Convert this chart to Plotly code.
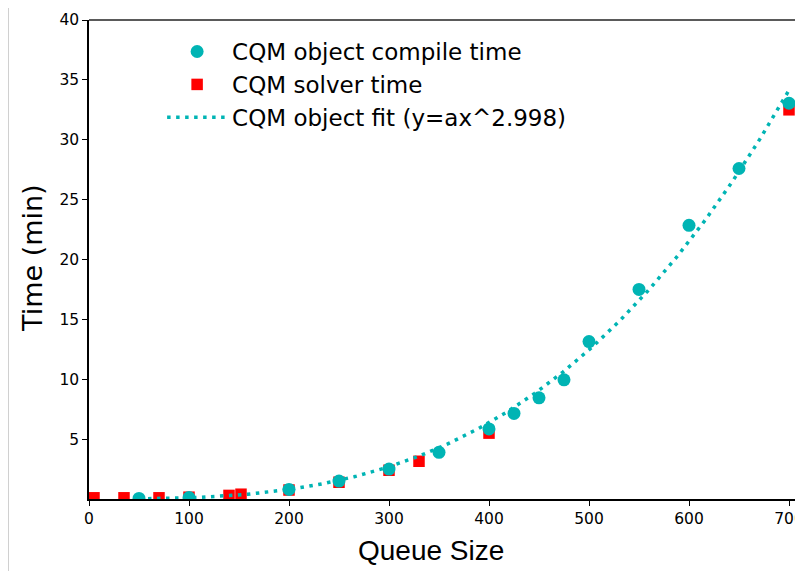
import numpy as np
import plotly.graph_objects as go

# ---- data ----
compile_x = [50, 100, 200, 250, 300, 350, 400, 425, 450, 475, 500, 550, 600, 650, 700]
compile_y = [0.05, 0.12, 0.8, 1.5, 2.5, 3.9, 5.85, 7.15, 8.45, 9.95, 13.15, 17.5, 22.85, 27.6, 33.05]

solver_x = [5, 35, 70, 100, 140, 152, 200, 250, 300, 330, 400, 700]
solver_y = [0.1, 0.1, 0.1, 0.15, 0.3, 0.4, 0.75, 1.4, 2.4, 3.15, 5.5, 32.5]

fit_exponent = 2.998
x_ticks = [0, 100, 200, 300, 400, 500, 600, 700]
y_ticks = [5, 10, 15, 20, 25, 30, 35, 40]

# least-squares coefficient for y = a x^p on the compile-time points
cx = np.array(compile_x, dtype=float)
cy = np.array(compile_y, dtype=float)
xp = cx ** fit_exponent
a = float(np.sum(cy * xp) / np.sum(xp * xp))
fit_x = np.linspace(min(compile_x), max(compile_x), 300)
fit_y = a * fit_x ** fit_exponent

TEAL = "#00b4b4"
RED = "#ff0000"

fig = go.Figure()
fig.add_trace(go.Scatter(
    x=solver_x, y=solver_y, mode="markers", name="CQM solver time",
    marker=dict(symbol="square", size=11.5, color=RED, line=dict(width=0)),
    legendrank=2,
))
fig.add_trace(go.Scatter(
    x=compile_x, y=compile_y, mode="markers", name="CQM object compile time",
    marker=dict(symbol="circle", size=13, color=TEAL, line=dict(width=0)),
    legendrank=1,
))
fig.add_trace(go.Scatter(
    x=fit_x, y=fit_y, mode="lines", name="CQM object fit (y=ax^%.3f)" % fit_exponent,
    line=dict(color=TEAL, width=3.5, dash="3.5px,5.5px"),
    legendrank=3,
))

# page body has an 8px margin, so the figure is sized/offset to compensate
PW, PH = 714, 479
fig.update_layout(
    width=795, height=563,
    margin=dict(l=81, r=0, t=12, b=72, autoexpand=False),
    paper_bgcolor="white", plot_bgcolor="white",
    font=dict(family="DejaVu Sans", size=16, color="black"),
    showlegend=True,
    legend=dict(
        x=0.1024, y=0.979, xanchor="left", yanchor="top",
        font=dict(family="DejaVu Sans", size=23, color="black"),
        bgcolor="rgba(0,0,0,0)", itemwidth=60, tracegroupgap=0,
    ),
    xaxis=dict(
        range=[0, 714], tickvals=x_ticks, ticktext=[str(v) for v in x_ticks],
        showgrid=False, zeroline=False, showline=True, linecolor="black", linewidth=1.5,
        ticks="outside", ticklen=5, tickwidth=1.2, tickcolor="black", automargin=False,
        ticklabeloverflow="allow",
        tickfont=dict(family="DejaVu Sans", size=15.5),
    ),
    yaxis=dict(
        range=[0, 40], tickvals=y_ticks, ticktext=[str(v) for v in y_ticks],
        showgrid=False, zeroline=False, showline=True, linecolor="black", linewidth=1.5,
        ticks="outside", ticklen=5, tickwidth=1.2, tickcolor="black", automargin=False,
        ticklabeloverflow="allow",
        tickfont=dict(family="DejaVu Sans", size=15.5),
    ),
    shapes=[
        dict(type="line", xref="paper", yref="paper", x0=0, x1=1, y0=1, y1=1,
             line=dict(color="#5a5a5a", width=2)),
        dict(type="line", xref="paper", yref="paper", x0=-80.5 / PW, x1=-80.5 / PW,
             y0=-72 / PH, y1=1 + 12 / PH, line=dict(color="#d0d0d0", width=1)),
    ],
    annotations=[
        dict(text="Queue Size", xref="paper", yref="paper", x=(431 - 89) / PW, y=(499 - 550) / PH,
             xanchor="center", yanchor="middle", showarrow=False,
             font=dict(family="Liberation Sans", size=28, color="black")),
        dict(text="Time (min)", xref="paper", yref="paper", x=(32 - 89) / PW, y=(499 - 258) / PH,
             xanchor="center", yanchor="middle", showarrow=False, textangle=-90,
             font=dict(family="DejaVu Sans", size=27, color="black")),
    ],
)

fig.write_html("out.html")
